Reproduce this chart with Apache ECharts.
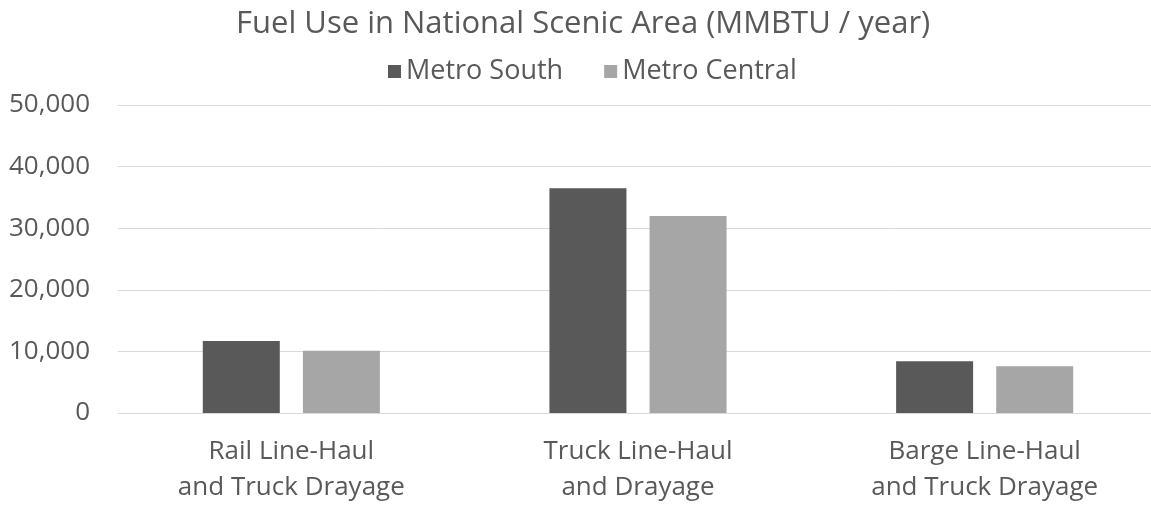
<!DOCTYPE html>
<html>
<head>
<meta charset="utf-8">
<script src="https://cdn.jsdelivr.net/npm/echarts@6/dist/echarts.min.js"></script>
<style>
html,body{margin:0;padding:0;background:#fff;}
#chart{width:1151px;height:505px;}
</style>
</head>
<body>
<div id="chart"></div>
<script>
const categories = ["Rail Line-Haul\nand Truck Drayage", "Truck Line-Haul\nand Drayage", "Barge Line-Haul\nand Truck Drayage"];
const seriesNames = ["Metro South", "Metro Central"];
const metroSouth = [11700, 36500, 8400];
const metroCentral = [10100, 32000, 7600];
const yTicks = [0, 10000, 20000, 30000, 40000, 50000];

const FONT = "Open Sans";
const chart = echarts.init(document.getElementById('chart'));
chart.setOption({
  backgroundColor: '#ffffff',
  animation: false,
  title: {
    text: 'Fuel Use in National Scenic Area (MMBTU / year)',
    left: 231,
    top: 4,
    textStyle: {fontFamily: FONT, fontSize: 31, fontWeight: 'normal', color: '#595959'}
  },
  legend: {
    data: seriesNames,
    top: 53,
    left: 383,
    itemWidth: 13,
    itemHeight: 13,
    itemGap: 41,
    icon: 'rect',
    textStyle: {fontFamily: FONT, fontSize: 27, color: '#595959'}
  },
  grid: {left: 118, width: 1040, top: 105, height: 308, containLabel: false, outerBoundsMode: 'none'},
  xAxis: {
    type: 'category',
    data: categories,
    axisLine: {show: true, lineStyle: {color: '#d9d9d9', width: 1}},
    axisTick: {show: false},
    axisLabel: {fontFamily: FONT, fontSize: 26, color: '#595959', lineHeight: 36, margin: 21, interval: 0}
  },
  yAxis: {
    type: 'value',
    min: yTicks[0],
    max: yTicks[yTicks.length - 1],
    interval: 10000,
    axisLine: {show: false},
    axisTick: {show: false},
    splitLine: {lineStyle: {color: '#d9d9d9', width: 1}},
    axisLabel: {
      fontFamily: FONT, fontSize: 26, color: '#595959', margin: 28,
      formatter: v => v.toLocaleString('en-US')
    }
  },
  series: [
    {name: seriesNames[0], type: 'bar', data: metroSouth, barWidth: 77, barGap: '30%', itemStyle: {color: '#595959'}},
    {name: seriesNames[1], type: 'bar', data: metroCentral, barWidth: 77, itemStyle: {color: '#a6a6a6'}}
  ]
});
</script>
</body>
</html>
